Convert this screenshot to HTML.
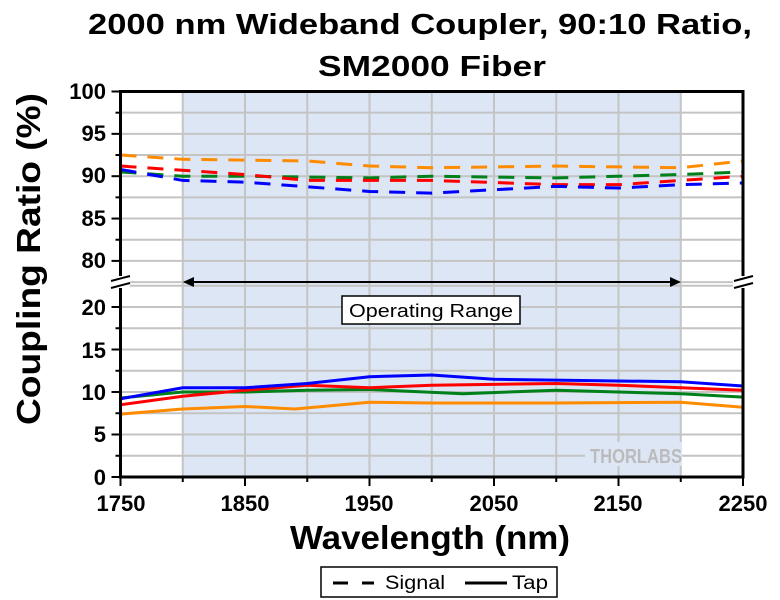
<!DOCTYPE html><html><head><style>body{margin:0;background:#fff}svg{display:block;font-family:"Liberation Sans",Arial,sans-serif}</style></head><body>
<svg id="s" width="780" height="600" xmlns="http://www.w3.org/2000/svg">
<rect x="182.8" y="91.5" width="498" height="386" fill="#dde6f5"/>
<g id="grid" stroke="#c4c4c4" stroke-width="2"></g>
<g id="series" fill="none" stroke-width="3"></g>
<rect x="585" y="442" width="97" height="24" fill="#dde6f5"/>
<text x="590" y="463" font-size="20" font-weight="bold" fill="#bbb" textLength="92" lengthAdjust="spacingAndGlyphs">THORLABS</text>
<rect x="120.5" y="91.5" width="622.5" height="385.5" fill="none" stroke="#000" stroke-width="3"/>
<g id="ticks" stroke="#000" stroke-width="2"></g>
<rect x="110" y="276" width="20" height="12" fill="#fff"/>
<rect x="733" y="276" width="20" height="12" fill="#fff"/>
<g stroke="#000" stroke-width="2"><line x1="111" y1="281" x2="130" y2="276"/><line x1="111" y1="288" x2="130" y2="283"/><line x1="734" y1="281" x2="753" y2="276"/><line x1="734" y1="288" x2="753" y2="283"/></g>
<line x1="186" y1="282" x2="678" y2="282" stroke="#000" stroke-width="2"/>
<polygon points="182.8,282 194,277 194,287" fill="#000"/><polygon points="681,282 670,277 670,287" fill="#000"/>
<rect x="342" y="296" width="178" height="28" fill="#fff" stroke="#000" stroke-width="1.5"/>
<text x="349" y="317" font-size="18" textLength="164" lengthAdjust="spacingAndGlyphs">Operating Range</text>
<g font-size="22" font-weight="bold" text-anchor="end">
<text x="106" y="99">100</text><text x="106" y="141">95</text><text x="106" y="183">90</text><text x="106" y="226">85</text><text x="106" y="268">80</text>
<text x="106" y="315">20</text><text x="106" y="358">15</text><text x="106" y="400">10</text><text x="106" y="442">5</text><text x="106" y="485">0</text></g>
<g font-size="22" font-weight="bold" text-anchor="middle">
<text x="121" y="511">1750</text><text x="245" y="511">1850</text><text x="369" y="511">1950</text><text x="494" y="511">2050</text><text x="618" y="511">2150</text><text x="743" y="511">2250</text></g>
<text x="290" y="549" font-size="33" font-weight="bold" textLength="280" lengthAdjust="spacingAndGlyphs">Wavelength (nm)</text>
<text transform="translate(40,425) rotate(-90)" font-size="33" font-weight="bold" textLength="332" lengthAdjust="spacingAndGlyphs">Coupling Ratio (%)</text>
<text x="88" y="34" font-size="29" font-weight="bold" textLength="664" lengthAdjust="spacingAndGlyphs">2000 nm Wideband Coupler, 90:10 Ratio,</text>
<text x="318" y="76" font-size="29" font-weight="bold" textLength="228" lengthAdjust="spacingAndGlyphs">SM2000 Fiber</text>
<rect x="321" y="567" width="236" height="30" fill="#fff" stroke="#000" stroke-width="1.5"/>
<g stroke="#000" stroke-width="3"><line x1="333" y1="583" x2="348" y2="583"/><line x1="362" y1="583" x2="374" y2="583"/><line x1="465" y1="583" x2="507" y2="583"/></g>
<text x="385" y="589" font-size="19" textLength="60" lengthAdjust="spacingAndGlyphs">Signal</text><text x="512" y="589" font-size="19" textLength="36" lengthAdjust="spacingAndGlyphs">Tap</text>
</svg>
<script>
const NS="http://www.w3.org/2000/svg";
const X=w=>120.5+(w-1750)*1.245, YT=v=>91.5+(100-v)*8.47, YB=v=>477-v*8.5;
function el(p,t,a){const e=document.createElementNS(NS,t);for(const k in a)e.setAttribute(k,a[k]);document.getElementById(p).appendChild(e);}
for(let w=1800;w<2250;w+=50)el("grid","line",{x1:X(w),y1:91.5,x2:X(w),y2:477});
for(let v=97.5;v>77;v-=2.5)el("grid","line",{x1:120.5,y1:YT(v),x2:743,y2:YT(v)});
for(let v=2.5;v<23;v+=2.5)el("grid","line",{x1:120.5,y1:YB(v),x2:743,y2:YB(v)});
for(let v=100;v>77;v-=2.5){let l=v%5?5:9;el("ticks","line",{x1:120.5-l,y1:YT(v),x2:120.5,y2:YT(v)});}
for(let v=0;v<23;v+=2.5){let l=v%5?5:9;el("ticks","line",{x1:120.5-l,y1:YB(v),x2:120.5,y2:YB(v)});}
for(let w=1750;w<=2250;w+=50){let l=(w-1750)%100?5:9;el("ticks","line",{x1:X(w),y1:477,x2:X(w),y2:477+l});}
const S=[["#ff8c00",[[1750,92.5],[1800,92],[1900,91.8],[1950,91.2],[2000,91],[2100,91.2],[2200,91],[2250,91.8]]],
["#00801a",[[1750,90.5],[1800,90],[1850,90],[1950,89.8],[2000,90],[2100,89.8],[2200,90.2],[2250,90.5]]],
["#ff0000",[[1750,91.2],[1850,90.2],[1900,89.5],[2000,89.5],[2100,89],[2150,89],[2200,89.5],[2250,90]]],
["#0000ff",[[1750,90.8],[1800,89.5],[1850,89.3],[1950,88.2],[2000,88],[2100,88.8],[2150,88.6],[2200,89],[2250,89.2]]]];
const T=[["#ff8c00",[[1750,7.4],[1800,8],[1850,8.3],[1890,8],[1950,8.8],[2000,8.7],[2100,8.7],[2200,8.8],[2250,8.2]]],
["#00801a",[[1750,9.3],[1800,10],[1850,10],[1900,10.2],[1950,10.3],[2025,9.8],[2100,10.2],[2150,10],[2200,9.8],[2250,9.4]]],
["#ff0000",[[1750,8.5],[1800,9.5],[1850,10.2],[1900,10.8],[1950,10.5],[2000,10.8],[2100,11],[2150,10.8],[2200,10.5],[2250,10.2]]],
["#0000ff",[[1750,9.2],[1800,10.5],[1850,10.5],[1900,11],[1950,11.8],[2000,12],[2050,11.5],[2150,11.3],[2200,11.2],[2250,10.7]]]];
S.forEach(([c,p])=>el("series","polyline",{stroke:c,"stroke-dasharray":"16 11",points:p.map(q=>X(q[0])+","+YT(q[1])).join(" ")}));
T.forEach(([c,p])=>el("series","polyline",{stroke:c,points:p.map(q=>X(q[0])+","+YB(q[1])).join(" ")}));
</script></body></html>
